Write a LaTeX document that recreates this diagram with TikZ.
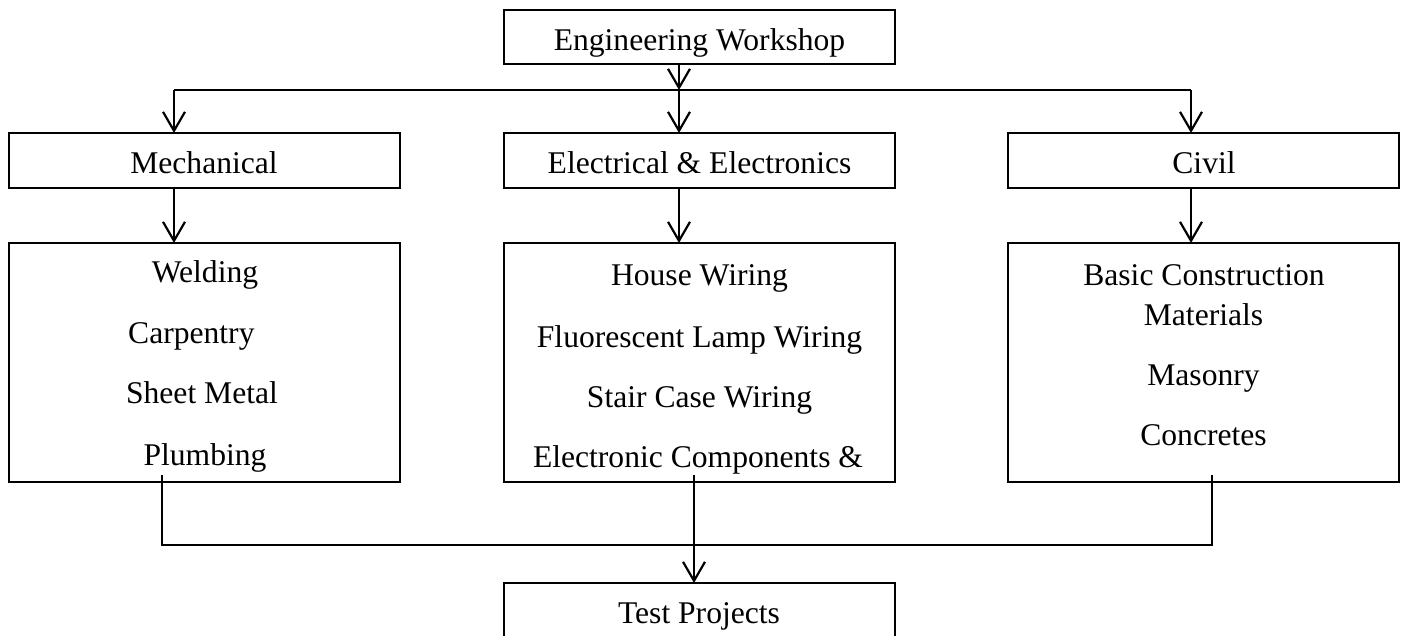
\documentclass[tikz,border=0pt]{standalone}
\usepackage{fontspec}
\setmainfont{Liberation Serif}
\usetikzlibrary{arrows.meta,calc}
\begin{document}
\begin{tikzpicture}[x=1pt,y=-1pt,
  box/.style={draw,line width=2.4pt,inner sep=0pt,outer sep=0pt,minimum width=391pt},
  lbl/.style={anchor=base,inner sep=0pt,font=\fontsize{31.6}{38}\selectfont},
  wire/.style={line width=2.2pt},
  arr/.style={wire,-{Straight Barb[length=19pt,width=22pt,line width=2.2pt]}}]
\useasboundingbox (0,0) rectangle (1404,635);
\clip (0,0) rectangle (1404,635);
% boxes
\node[box,minimum height=54pt] (top) at (699.5,37) {};
\node[box,minimum height=55pt] (mech) at (204.5,160.5) {};
\node[box,minimum height=55pt] (elec) at (699.5,160.5) {};
\node[box,minimum height=55pt] (civ) at (1203.5,160.5) {};
\node[box,minimum height=239pt] (mech3) at (204.5,362.5) {};
\node[box,minimum height=239pt] (elec3) at (699.5,362.5) {};
\node[box,minimum height=239pt] (civ3) at (1203.5,362.5) {};
\node[box,minimum height=117pt] (test) at (699.5,641.5) {};
% texts
\node[lbl] (tTop) at (699.5,50) {Engineering Workshop};
\node[lbl] (tMech) at (204,173) {Mechanical};
\node[lbl] (tElec) at (699.5,173) {Electrical \& Electronics};
\node[lbl] (tCiv) at (1204,173) {Civil};
\node[lbl] (m1) at (205,282) {Welding};
\node[lbl,anchor=base west] (m2) at (128,343) {Carpentry};
\node[lbl] (m3) at (202,403) {Sheet Metal};
\node[lbl] (m4) at (205,465) {Plumbing};
\node[lbl] (e1) at (699.5,285) {House Wiring};
\node[lbl] (e2) at (699.5,347) {Fluorescent Lamp Wiring};
\node[lbl] (e3) at (699.5,407) {Stair Case Wiring};
\node[lbl] (e4) at (698,467) {Electronic Components \&};
\node[lbl] (c1) at (1204,285) {Basic Construction};
\node[lbl] (c2) at (1203.5,325) {Materials};
\node[lbl] (c3) at (1203.5,385) {Masonry};
\node[lbl] (c4) at (1203.5,445) {Concretes};
\node[lbl] (tTest) at (699,623) {Test Projects};
% connector coordinates
\coordinate (bus) at (0,90);
\coordinate (cM) at (174,0);
\coordinate (cE) at (679,0);
\coordinate (cC) at (1191,0);
\coordinate (bot) at (0,545);
\coordinate (pM) at (162,0);
\coordinate (pE) at (694,0);
\coordinate (pC) at (1212,0);
% top distribution
\draw[wire] (cM |- bus) -- (cC |- bus);
\draw[arr] (top.south -| cE) -- (cE |- bus);
\draw[arr] (cM |- bus) -- (cM |- mech.north);
\draw[arr] (cE |- bus) -- (cE |- elec.north);
\draw[arr] (cC |- bus) -- (cC |- civ.north);
% row 2 to row 3
\draw[arr] (mech.south -| cM) -- (cM |- mech3.north);
\draw[arr] (elec.south -| cE) -- (cE |- elec3.north);
\draw[arr] (civ.south -| cC) -- (cC |- civ3.north);
% bottom collection
\draw[wire] ($(mech3.south -| pM)+(0,-7)$) -- (pM |- bot) -- (pC |- bot) -- ($(civ3.south -| pC)+(0,-7)$);
\draw[arr] ($(elec3.south -| pE)+(0,-7)$) -- (pE |- test.north);
\end{tikzpicture}
\end{document}
